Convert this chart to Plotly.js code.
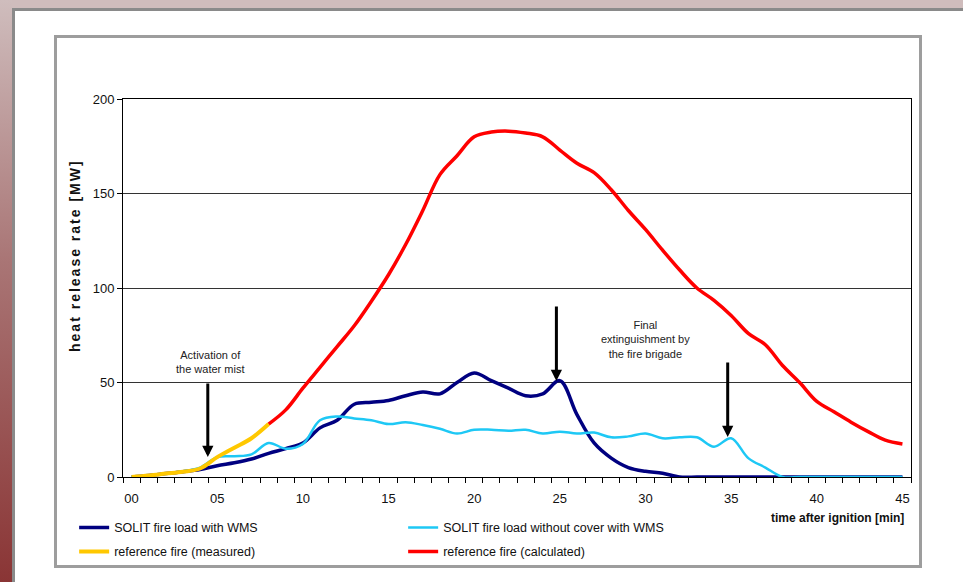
<!DOCTYPE html>
<html><head><meta charset="utf-8">
<script src="https://cdn.plot.ly/plotly-3.0.1.min.js"></script>
<style>
html,body{margin:0;padding:0;width:963px;height:582px;overflow:hidden;background:#fff;}
#top{position:absolute;left:0;top:0;width:963px;height:8px;background:#cfbcbc;}
#topline{position:absolute;left:12px;top:8px;width:951px;height:3px;background:#8a8a8a;}
#left{position:absolute;left:0;top:0;width:12px;height:582px;background:linear-gradient(#cfbdbd,#a97575 45%,#8a3535);}
#leftline{position:absolute;left:12px;top:8px;width:3px;height:574px;background:#8a8a8a;}
#box{position:absolute;left:54px;top:35px;width:862px;height:527px;border:3px solid #9d9d9d;}
#chart{position:absolute;left:0;top:0;width:963px;height:582px;}
#chart .annotation[data-index="5"] text{letter-spacing:2px;}
</style>
</head><body>
<div id="top"></div><div id="left"></div><div id="topline"></div><div id="leftline"></div>
<div id="box"></div>
<div id="chart"></div>
<script>
// time after ignition [min]
const minutes = [0,1,2,3,4,5,6,7,8,9,10,11,12,13,14,15,16,17,18,19,20,21,22,23,24,25,26,27,28,29,30,31,32,33,34,35,36,37,38,39,40,41,42,43,44,45];
// SOLIT fire load with WMS [MW]
const solitWms = [0,0.8,1.8,2.8,4,6,7.5,9.5,12.5,15,18,26,30,38.5,39.5,40.5,43,45,44,50,55,51,47,43,44,51,33,18,10,5,3,2,0,0,0,0,0,0,0,0,0,0,0,0,0,0];
// SOLIT fire load without cover with WMS [MW]
const solitNoCover = [0,0.8,1.8,3,5,10.5,11,12,18,15,17.5,30,32,31,30,28,29,27.5,25.5,23,25,25,24.5,25,23,24,23,23.5,21,21.5,23,20.5,21,21,16,20.5,10,5,0,0,0,0,0,0,0,0];
// reference fire (measured)
const measuredMin = [0,1,2,3,4,5,6,7,8];
const refMeasured = [0,0.8,1.8,2.8,4.5,10.5,15.5,20.5,28];
// reference fire (calculated)
const calcMin = [8,9,10,11,12,13,14,15,16,17,18,19,20,21,22,23,24,25,26,27,28,29,30,31,32,33,34,35,36,37,38,39,40,41,42,43,44,45];
const refCalculated = [28,35.5,47,58,69,80,93,107,123,141,160,170,180,182.5,183,182,180,173,166,161,152,141,131,120,109.5,100,93.5,85.5,76,70,59,50,40,34.5,29,24,19.5,17.5];

const xTickVals = [0,5,10,15,20,25,30,35,40,45];
const xTickText = ['00','05','10','15','20','25','30','35','40','45'];
const yTickVals = [0,50,100,150,200];

// event arrows: [tip minute, tip MW, tail MW]
const arrowMin = [4.45, 24.8, 34.8];
const arrowTip = [10.6, 50.8, 21.2];
const arrowTail = [50.3, 91, 61.4];

const FONT = 'Liberation Sans, Arial, sans-serif';

const traces = [
  {x: minutes, y: solitWms, name: 'SOLIT fire load with WMS', type: 'scatter', mode: 'lines',
   line: {color: '#000080', width: 3.5, shape: 'spline', smoothing: 1}, legend: 'legend', legendrank: 1},
  {x: minutes, y: solitNoCover, name: 'SOLIT fire load without cover with WMS', type: 'scatter', mode: 'lines',
   line: {color: '#1ec8f5', width: 2.5, shape: 'spline', smoothing: 1}, legend: 'legend', legendrank: 2},
  {x: calcMin, y: refCalculated, name: 'reference fire (calculated)', type: 'scatter', mode: 'lines',
   line: {color: '#ff0000', width: 3.5, shape: 'spline', smoothing: 1}, legend: 'legend2', legendrank: 2},
  {x: measuredMin, y: refMeasured, name: 'reference fire (measured)', type: 'scatter', mode: 'lines',
   line: {color: '#ffc800', width: 4, shape: 'spline', smoothing: 1}, legend: 'legend2', legendrank: 1}
];

const annotations = [];
for (let i = 0; i < arrowMin.length; i++) {
  annotations.push({x: arrowMin[i], y: arrowTip[i], ax: arrowMin[i], ay: arrowTail[i], axref: 'x', ayref: 'y',
    xref: 'x', yref: 'y', text: '', showarrow: true, arrowhead: 2, arrowsize: 0.75, arrowwidth: 3,
    arrowcolor: '#000', standoff: 0, startstandoff: 0});
}
annotations.push({x: 4.6, y: 61.1, xref: 'x', yref: 'y', text: 'Activation of<br>the water mist', showarrow: false,
  font: {family: FONT, size: 11, color: '#222'}, align: 'center'});
annotations.push({x: 30.0, y: 73, xref: 'x', yref: 'y', text: 'Final<br>extinguishment by<br>the fire brigade', showarrow: false,
  font: {family: FONT, size: 11, color: '#222'}, align: 'center'});
annotations.push({x: -0.0609, y: 0.5847, xref: 'paper', yref: 'paper', xanchor: 'center', yanchor: 'middle', textangle: -90,
  text: '<b>heat release rate [MW]</b>', showarrow: false, font: {family: FONT, size: 14, color: '#111'}});
annotations.push({x: 0.9937, y: -0.1085, xref: 'paper', yref: 'paper', xanchor: 'right', yanchor: 'middle',
  text: '<b>time after ignition [min]</b>', showarrow: false, font: {family: FONT, size: 12, color: '#111'}});

const layout = {
  width: 963, height: 582,
  margin: {l: 123, r: 52, t: 99, b: 105},
  paper_bgcolor: 'rgba(0,0,0,0)', plot_bgcolor: '#ffffff',
  font: {family: FONT, size: 12, color: '#111'},
  showlegend: true,
  xaxis: {range: [-0.5, 45.5], tickmode: 'array', tickvals: xTickVals, ticktext: xTickText, ticks: '',
    ticklabelstandoff: 9,
    showgrid: false, zeroline: false, showline: true, mirror: true, linecolor: '#000', linewidth: 1,
    tickfont: {family: FONT, size: 13, color: '#111'},
    minor: {tickmode: 'linear', tick0: 0.5, dtick: 1, ticks: 'outside', ticklen: 5, tickcolor: '#000', tickwidth: 1, showgrid: false}},
  yaxis: {range: [0, 200], tickmode: 'array', tickvals: yTickVals, ticks: 'outside', ticklen: 5, tickcolor: '#000',
    showgrid: true, gridcolor: '#333', gridwidth: 1, zeroline: false, showline: true, mirror: true, linecolor: '#000',
    tickfont: {family: FONT, size: 13, color: '#111'}},
  legend: {orientation: 'h', x: -0.062, xanchor: 'left', y: -0.0952, yanchor: 'top', entrywidth: 284, itemwidth: 30,
    bgcolor: 'rgba(0,0,0,0)', font: {family: FONT, size: 12.5, color: '#111'}},
  legend2: {orientation: 'h', x: -0.062, xanchor: 'left', y: -0.1587, yanchor: 'top', entrywidth: 284, itemwidth: 30,
    bgcolor: 'rgba(0,0,0,0)', font: {family: FONT, size: 12.5, color: '#111'}},
  annotations: annotations
};

Plotly.newPlot('chart', traces, layout, {displayModeBar: false, staticPlot: true});
</script>
</body></html>
